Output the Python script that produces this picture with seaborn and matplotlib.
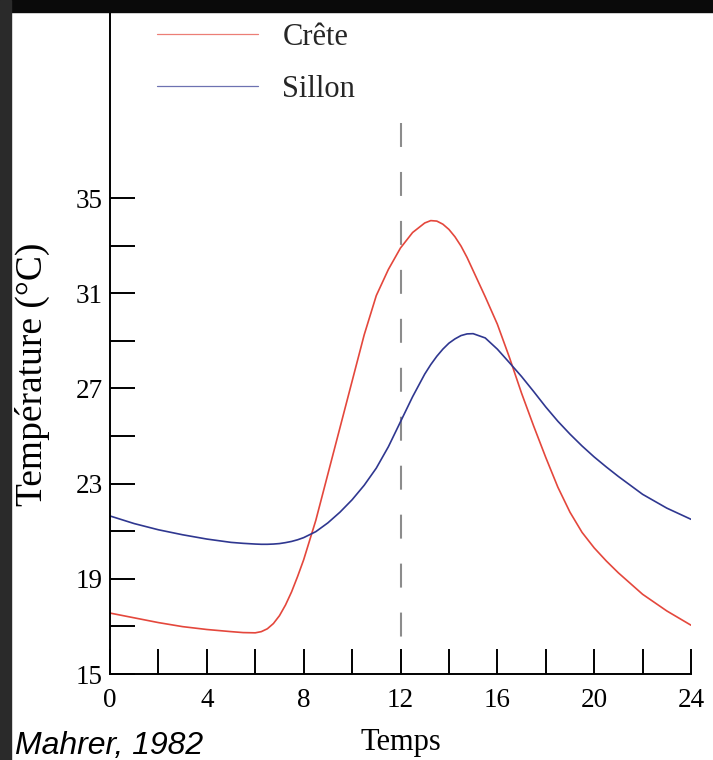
import numpy as np
import pandas as pd
import seaborn as sns
import matplotlib
matplotlib.use("Agg")
import matplotlib.pyplot as plt
from matplotlib.patches import Rectangle

# ---- data ----
hours = [0, 1, 2, 3, 4, 5, 5.5, 6, 6.25, 6.5, 6.75, 7, 7.25, 7.5, 7.75, 8,
         8.5, 9, 9.5, 10, 10.5, 11, 11.5, 12, 12.5, 13, 13.25, 13.5, 13.75,
         14, 14.25, 14.5, 14.75, 15, 15.5, 16, 16.5, 17, 17.5, 18, 18.5, 19,
         19.5, 20, 20.5, 21, 22, 23, 24]
crete = [17.56, 17.36, 17.16, 16.99, 16.87, 16.78, 16.74, 16.73, 16.78, 16.9,
         17.12, 17.45, 17.9, 18.45, 19.1, 19.8,
         21.45, 23.4, 25.35, 27.3, 29.25, 30.9, 32.0, 32.9, 33.55, 33.95,
         34.05, 34.03, 33.9,
         33.68, 33.37, 32.98, 32.5, 31.95, 30.85, 29.7, 28.3, 26.8, 25.42,
         24.1, 22.85, 21.8,
         20.95, 20.3, 19.75, 19.25, 18.35, 17.65, 17.05]
sillon = [21.64, 21.32, 21.06, 20.85, 20.67, 20.53, 20.49, 20.46, 20.45, 20.45,
          20.46, 20.48, 20.52, 20.57, 20.64, 20.73,
          20.98, 21.35, 21.8, 22.32, 22.93, 23.65, 24.55, 25.6, 26.65, 27.6,
          28.0, 28.35, 28.65,
          28.9, 29.08, 29.22, 29.29, 29.3, 29.12, 28.65, 28.08, 27.5, 26.87,
          26.22, 25.62, 25.08,
          24.58, 24.12, 23.7, 23.3, 22.55, 21.97, 21.5]
series_names = ["Crête", "Sillon"]
series_colors = ["#e4473c", "#2f3790"]
x_ticks = [0, 2, 4, 6, 8, 10, 12, 14, 16, 18, 20, 22, 24]
x_labeled = [0, 4, 8, 12, 16, 20, 24]
y_ticks = [15, 17, 19, 21, 23, 25, 27, 29, 31, 33, 35]
y_labeled = [15, 19, 23, 27, 31, 35]
noon = 12
xlabel = "Temps"
ylabel = "Température (°C)"
source = "Mahrer, 1982"

df = pd.DataFrame({
    "Temps": hours * 2,
    "T": crete + sillon,
    "Série": [series_names[0]] * len(hours) + [series_names[1]] * len(hours),
})

sns.set_style("white")
plt.rcParams["font.family"] = ["Liberation Serif", "DejaVu Serif"]

W, H = 713, 760
fig = plt.figure(figsize=(W / 100, H / 100), dpi=100)
left, right, bottom_px, top_px = 110, 691, 674, 12
ax = fig.add_axes([left / W, (H - bottom_px) / H, (right - left) / W,
                   (bottom_px - top_px) / H])

sns.lineplot(data=df, x="Temps", y="T", hue="Série",
             palette=dict(zip(series_names, series_colors)),
             linewidth=1.2, ax=ax, legend=True, sort=False)

# dashed noon line
ax.plot([noon, noon], [38.15, 16.5], color="#8c8c8c", lw=1.5,
        ls=(0, (11.5, 12.0)), zorder=1)

ax.set_xlim(0, 24)
ax.set_ylim(15, 15 + (bottom_px - top_px) / 23.8)

ax.set_xticks(x_ticks)
ax.set_xticklabels([str(t) if t in x_labeled else "" for t in x_ticks])
ax.set_yticks(y_ticks)
ax.set_yticklabels([str(t) if t in y_labeled else "" for t in y_ticks])
ax.tick_params(axis="both", which="major", direction="in", length=18,
               width=1.4, color="black", labelsize=19.5, labelcolor="black",
               bottom=True, left=True, top=False, right=False)
ax.tick_params(axis="x", pad=10)
ax.tick_params(axis="y", pad=5)

for s in ["top", "right"]:
    ax.spines[s].set_visible(False)
for s in ["left", "bottom"]:
    ax.spines[s].set_color("black")
    ax.spines[s].set_linewidth(1.4)

ax.set_xlabel(xlabel, fontsize=22, labelpad=11, color="black")
ax.set_ylabel(ylabel, fontsize=27, color="black")
ax.yaxis.set_label_coords(-0.104, 0.453)

handles, labels = ax.get_legend_handles_labels()
leg = ax.legend(handles, labels, loc="upper left",
                bbox_to_anchor=(157 / W, 1 - 23 / H),
                bbox_transform=fig.transFigure, frameon=False,
                fontsize=22, handlelength=3.3, handletextpad=0.8,
                labelspacing=0.75, borderpad=0, borderaxespad=0)
for h in leg.get_lines():
    h.set_linewidth(0.9)
    h.set_alpha(0.7)

fig.text(15 / W, (H - 754) / H, source, fontsize=23, style="italic",
         family=["Liberation Sans", "DejaVu Sans"], color="black",
         va="baseline", ha="left")

# dark frame of the original screenshot
fig.patches.append(Rectangle((0, 1 - 12 / H), 1, 12 / H, transform=fig.transFigure,
                             color="#0a0a0a", zorder=5))
fig.patches.append(Rectangle((0, 0), 11 / W, 1, transform=fig.transFigure,
                             color="#2a2a2a", zorder=5))

fig.savefig("out.png", dpi=100)
